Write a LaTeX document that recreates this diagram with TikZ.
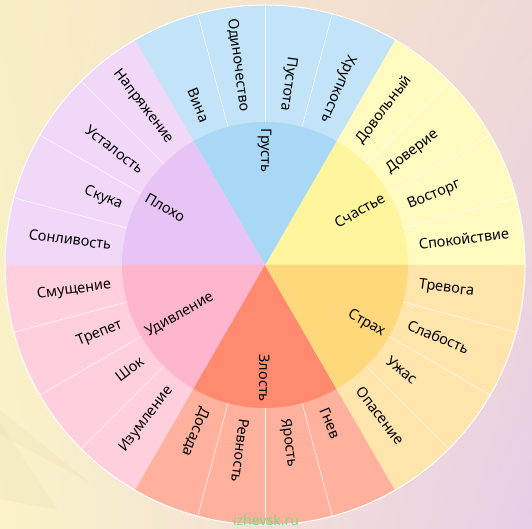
\documentclass[tikz,border=0pt]{standalone}
\usepackage{fontspec}
\setmainfont{Noto Sans}
\usetikzlibrary{shadings,calc}
\definecolor{bgUL}{HTML}{F8EEC4}
\definecolor{bgUR}{HTML}{EFD9D6}
\definecolor{bgLL}{HTML}{FBF3C8}
\definecolor{bgLR}{HTML}{E8CEE6}
\definecolor{hapI}{HTML}{FFF59C}
\definecolor{hapO}{HTML}{FFFAC0}
\definecolor{sadI}{HTML}{A8D8F6}
\definecolor{sadO}{HTML}{C2E3F8}
\definecolor{badI}{HTML}{E7C4F5}
\definecolor{badO}{HTML}{F1D8F8}
\definecolor{surI}{HTML}{FFB5CD}
\definecolor{surO}{HTML}{FFCFDD}
\definecolor{angI}{HTML}{FF8A70}
\definecolor{angO}{HTML}{FFB19D}
\definecolor{fearI}{HTML}{FFD87C}
\definecolor{fearO}{HTML}{FFE4AC}
\definecolor{wm}{HTML}{7FD882}
\definecolor{wedge}{HTML}{E8D8A8}
\tikzset{
  lbl/.style={inner sep=0pt, font=\fontsize{14.5}{16}\selectfont, text=black},
  sublines/.style={white, line width=0.6pt, opacity=0.85},
}
\begin{document}
\begin{tikzpicture}[x=1pt,y=1pt]
\useasboundingbox (0,0) rectangle (532,529);
\shade[upper left=bgUL, upper right=bgUR, lower left=bgLL, lower right=bgLR] (0,0) rectangle (532,529);
% faint wedges in the lower-left background
\fill[wedge, opacity=0.2] (0,119) -- (90,46) -- (0,95) -- cycle;
\fill[wedge, opacity=0.2] (0,106) -- (58,19) -- (0,30) -- cycle;
\coordinate (O) at (265,264);
\def\rin{143}
\def\rout{260}
% sectors
\foreach \a/\ci/\co in {0/hapI/hapO,60/sadI/sadO,120/badI/badO,180/surI/surO,240/angI/angO,300/fearI/fearO}{
  \fill[\co] (O) -- ++(\a:\rout) arc[start angle=\a, end angle=\a+60, radius=\rout] -- cycle;
  \fill[\ci] (O) -- ++(\a:\rin) arc[start angle=\a, end angle=\a+60, radius=\rin] -- cycle;
}
% sub-sector lines
\foreach \a in {0,60,...,300}{
  \foreach \d in {15,30,45}{
    \draw[sublines] ($(O)+(\a+\d:\rin)$) -- ($(O)+(\a+\d:\rout)$);
  }
}
\draw[white, line width=1pt] (O) circle[radius=\rout];
% inner labels
\node[lbl, rotate=30, anchor=east] (l-hap) at ($(O)+(30:137)$) {Счастье};
\node[lbl, rotate=270, anchor=west] (l-sad) at ($(O)+(90:137)$) {Грусть};
\node[lbl, rotate=330, anchor=west] (l-bad) at ($(O)+(150:137)$) {Плохо};
\node[lbl, rotate=30, anchor=west] (l-sur) at ($(O)+(210:137)$) {Удивление};
\node[lbl, rotate=270, anchor=east] (l-ang) at ($(O)+(270:137)$) {Злость};
\node[lbl, rotate=330, anchor=east] (l-fear) at ($(O)+(330:137)$) {Страх};
% outer labels, reading outward
\foreach \ang/\txt/\nm in {7.5/Спокойствие/o1,22.5/Восторг/o2,37.5/Доверие/o3,52.5/Довольный/o4,
  247.5/Досада/o17,262.5/Ревность/o18,277.5/Ярость/o19,292.5/Гнев/o20,
  307.5/Опасение/o21,322.5/Ужас/o22,337.5/Слабость/o23,352.5/Тревога/o24}{
  \node[lbl, rotate=\ang, anchor=west] (\nm) at ($(O)+(\ang:155)$) {\txt};
}
% outer labels, reading inward
\foreach \ang/\txt/\nm in {67.5/Хрупкость/o5,82.5/Пустота/o6,97.5/Одиночество/o7,112.5/Вина/o8,
  127.5/Напряжение/o9,142.5/Усталость/o10,157.5/Скука/o11,172.5/Сонливость/o12,
  187.5/Смущение/o13,202.5/Трепет/o14,217.5/Шок/o15,232.5/Изумление/o16}{
  \node[lbl, rotate=\ang+180, anchor=east] (\nm) at ($(O)+(\ang:155)$) {\txt};
}
\node[text=wm, inner sep=0pt, font=\fontsize{14}{16}\selectfont] (wmark) at (266,9) {izhevsk.ru};
\end{tikzpicture}
\end{document}
